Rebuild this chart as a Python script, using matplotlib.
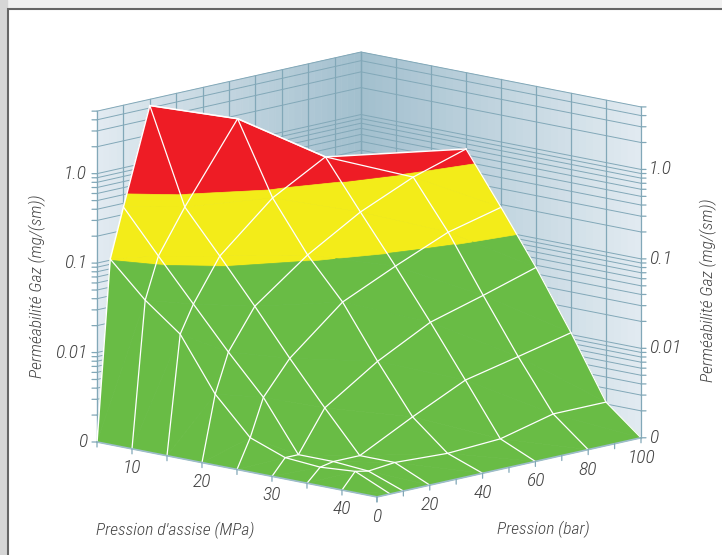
import numpy as np
import matplotlib
matplotlib.use("Agg")
import matplotlib.pyplot as plt
from matplotlib.patches import Rectangle
from matplotlib.colors import to_rgb
from matplotlib import font_manager
from mpl_toolkits.mplot3d import proj3d
from mpl_toolkits.mplot3d.art3d import Poly3DCollection

# data, permeability in mg/(sm), 0 sits at the axis floor
nan = float("nan")
seat_pressure = [5, 10, 15, 20, 25, 30, 35, 40, 45]
gas_pressure = [0, 5, 10, 20, 40, 60, 80, 100]
perm_05 = [0, 0.103, 0.365, 4.26, nan, nan, nan, nan]
perm_10 = [0, 0.0426, 0.123, 0.373, 2.67, nan, nan, nan]
perm_15 = [0, 0.0212, 0.0426, 0.126, 0.415, 0.88, nan, nan]
perm_20 = [0, 0.0054, 0.0148, 0.0413, 0.114, 0.254, 0.46, 0.70]
perm_25 = [0, 0.0021, 0.0055, 0.0129, 0.0405, 0.0752, 0.133, 0.186]
perm_30 = [0, 0.0015, 0.0015, 0.0043, 0.0105, 0.0212, 0.0312, 0.0472]
perm_35 = [0, 0.0014, 0.0015, 0.0015, 0.003, 0.0057, 0.0077, 0.0105]
perm_40 = [0, 0.0015, 0.0014, 0.0015, 0.0014, 0.0015, 0.0021, 0.0021]
perm_45 = [0, 0, 0, 0, 0, 0, 0, 0]

z_major = [0.01, 0.1, 1.0]
z_major_labels = ["0.01", "0.1", "1.0"]
z_top = 5
band_limits = [0.1, 0.5]
band_colors = ["#69BC45", "#F3EC19", "#EE1C25"]
seat_labels = [10, 20, 30, 40]
gas_labels = [0, 20, 40, 60, 80, 100]

GRID = "#82a8b8"
AXIS = "#9dbccb"
TEXT = "#444444"
W, H = 722, 555

# narrowest light face that is installed
installed = {f.name for f in font_manager.fontManager.ttflist}
FONT = [n for n in ["Liberation Sans Narrow", "Roboto Condensed", "Open Sans Condensed", "Roboto"] if n in installed]
FONT = FONT + ["DejaVu Sans"]


def log_z(v):
    v = np.asarray(v, dtype=float)
    return np.log10(np.where(v > 0, v, 0.001))


perm = np.array([perm_05, perm_10, perm_15, perm_20, perm_25,
                 perm_30, perm_35, perm_40, perm_45])
zz = log_z(perm)
zz[np.isnan(perm)] = nan
xs = np.array(seat_pressure, dtype=float)
ys = np.array(gas_pressure, dtype=float)

fig = plt.figure(figsize=(W / 100, H / 100), dpi=100, facecolor="#f1f1f1")
# left strip and white panel behind the chart
fig.add_artist(Rectangle((0, 0), 7 / W, 1, transform=fig.transFigure, color="#d6d6d6", zorder=-3))
fig.add_artist(Rectangle((8 / W, -0.1), 1, 1.1 - 9 / H, transform=fig.transFigure, facecolor="white",
                         edgecolor="#666666", lw=1.5, zorder=-2))

side = 1000
ax = fig.add_axes([(W - side) / 2 / W, (H - side) / 2 / H, side / W, side / H],
                  projection="3d", computed_zorder=False)
ax.set_axis_off()
ax.patch.set_visible(False)
ax.set_proj_type("ortho")
ax.view_init(elev=12.1, azim=-46.9)
aspect = (383, 386, 338)
ax.set_box_aspect(aspect, zoom=1)
zmin, zmax = -3, float(log_z(z_top))
ax.set_xlim(xs[0], xs[-1], view_margin=0)
ax.set_ylim(ys[0], ys[-1], view_margin=0)
ax.set_zlim(zmin, zmax, view_margin=0)


def to_2d(x, y, z):
    X, Y, _ = proj3d.proj_transform(x, y, z, ax.get_proj())
    return float(X), float(Y)


def to_px(x, y, z):
    ax.apply_aspect()
    return ax.transData.transform(to_2d(x, y, z))


# scale and move the box so the floor corners land where they are in the picture
left = to_px(xs[0], ys[0], zmin)
right = to_px(xs[-1], ys[-1], zmin)
ax.set_box_aspect(aspect, zoom=(641 - 97) / (right[0] - left[0]))
left = to_px(xs[0], ys[0], zmin)
pos = ax.get_position(original=True)
ax.set_position([pos.x0 + (97 - left[0]) / W, pos.y0 + (H - 442 - left[1]) / H, pos.width, pos.height])

# walls with their gradient towards the back corner
outer = np.array(to_rgb("#e2ebf1"))
inner = np.array(to_rgb("#a2bfce"))
steps = np.linspace(0, 1, 41)
for k in range(40):
    col = outer + (inner - outer) * (steps[k] + steps[k + 1]) / 2
    y0, y1 = ys[-1] * steps[k], ys[-1] * steps[k + 1]
    x1, x0 = xs[-1] - (xs[-1] - xs[0]) * steps[k], xs[-1] - (xs[-1] - xs[0]) * steps[k + 1]
    wall_l = [(xs[0], y0, zmin), (xs[0], y1, zmin), (xs[0], y1, zmax), (xs[0], y0, zmax)]
    wall_r = [(x0, ys[-1], zmin), (x1, ys[-1], zmin), (x1, ys[-1], zmax), (x0, ys[-1], zmax)]
    ax.add_collection3d(Poly3DCollection([wall_l, wall_r], facecolors=[col, col], edgecolors=[col, col],
                                         linewidths=0.4, zorder=1))

# grid on the walls
levels = [0.0]
for decade in [0.001, 0.01, 0.1]:
    levels += [decade * m for m in range(2, 10)] + [decade * 10]
levels += [m * 1.0 for m in range(2, z_top + 1)]
level_z = log_z(levels)
for z in level_z:
    ax.plot([xs[0], xs[0], xs[-1]], [ys[0], ys[-1], ys[-1]], [z, z, z], color=GRID, lw=0.7, zorder=2)
for p in np.arange(0, 101, 10):
    ax.plot([xs[0], xs[0]], [p, p], [zmin, zmax], color=GRID, lw=0.9, zorder=2)
for s in xs:
    ax.plot([s, s], [ys[-1], ys[-1]], [zmin, zmax], color=GRID, lw=0.9, zorder=2)


def clip_poly(poly, limit, keep_above):
    # cut a polygon at one height, Sutherland-Hodgman style
    out = []
    for a, b in zip(poly, poly[1:] + poly[:1]):
        a_in = (a[2] >= limit) == keep_above
        b_in = (b[2] >= limit) == keep_above
        if a_in:
            out.append(a)
        if a_in != b_in:
            t = (limit - a[2]) / (b[2] - a[2])
            out.append(tuple(a[n] + t * (b[n] - a[n]) for n in range(3)))
    return out


def node(i, j):
    return (xs[i], ys[j], zz[i, j])


# triangles of the surface, the high side is cut off on a diagonal
tris = []
for i in range(len(xs) - 1):
    for j in range(len(ys) - 1):
        corners = [(i, j), (i + 1, j), (i + 1, j + 1), (i, j + 1)]
        good = [node(*c) for c in corners if not np.isnan(zz[c])]
        if len(good) == 4:
            tris += [[good[0], good[1], good[2]], [good[0], good[2], good[3]]]
        elif len(good) == 3:
            tris.append(good)
tris.append([node(2, 5), node(3, 6), node(3, 7)])

limits_z = log_z(band_limits)
polys, cols = [], []
for tri in tris:
    for band, color in enumerate(band_colors):
        part = tri
        if band > 0:
            part = clip_poly(part, limits_z[band - 1], True) if part else part
        if band < 2 and part:
            part = clip_poly(part, limits_z[band], False)
        if len(part) >= 3:
            polys.append(part)
            cols.append(color)
ax.add_collection3d(Poly3DCollection(polys, facecolors=cols, edgecolors=cols, linewidths=0.5,
                                     zsort="average", zorder=3))

# white mesh
for i in range(1, len(xs) - 1):
    ok = ~np.isnan(zz[i])
    ax.plot(xs[i] * np.ones(ok.sum()), ys[ok], zz[i][ok], color="white", lw=0.9, zorder=4)
for j in range(1, len(ys)):
    ok = ~np.isnan(zz[:, j])
    ax.plot(xs[ok], ys[j] * np.ones(ok.sum()), zz[:, j][ok], color="white", lw=0.9, zorder=4)
outline = [(0, 0), (0, 1), (0, 2), (0, 3), (1, 4), (2, 5), (3, 7)]
ax.plot([xs[i] for i, j in outline], [ys[j] for i, j in outline], [zz[i, j] for i, j in outline],
        color="white", lw=1.1, zorder=4)
for a, b in [((0, 3), (1, 4)), ((1, 4), (2, 5)), ((2, 5), (3, 6))]:
    ax.plot([xs[a[0]], xs[b[0]]], [ys[a[1]], ys[b[1]]], [zz[a], zz[b]], color="white", lw=0.9, zorder=4)

# floor axis lines
ax.plot([xs[0], xs[-1], xs[-1]], [ys[0], ys[0], ys[-1]], [zmin, zmin, zmin], color=AXIS, lw=1.2, zorder=5)


def tick(x, y, z, dx, dy):
    ax.annotate("", xy=to_2d(x, y, z), xytext=(dx, dy), textcoords="offset pixels", annotation_clip=False,
                arrowprops=dict(arrowstyle="-", color=GRID, lw=0.9, shrinkA=0, shrinkB=0), zorder=5)


def label(text, x, y, z, dx, dy, ha="center"):
    ax.annotate(text, xy=to_2d(x, y, z), xytext=(dx, dy), textcoords="offset pixels", annotation_clip=False,
                ha=ha, va="center", family=FONT, style="italic", weight="light", fontsize=14, color=TEXT, zorder=6)


for z in level_z:
    tick(xs[0], ys[0], z, -5, 0)
    tick(xs[-1], ys[-1], z, 5, 0)
for s in xs:
    tick(s, ys[0], zmin, 0, -5)
for p in np.arange(0, 101, 10):
    tick(xs[-1], p, zmin, 0, -5)

for v, text in zip(z_major + [0.0], z_major_labels + ["0"]):
    z = float(log_z(v))
    label(text, xs[0], ys[0], z, -10, 0, ha="right")
    label(text, xs[-1], ys[-1], z, 8, 0, ha="left")
for s in seat_labels:
    label(str(s), s, ys[0], zmin, 0, -19)
for p in gas_labels:
    label(str(p), xs[-1], p, zmin, 0, -20)

txt = dict(family=FONT, style="italic", weight="light", fontsize=12.6, color=TEXT, ha="center", va="center")
fig.text(175 / W, 1 - 530 / H, "Pression d'assise (MPa)", **txt)
fig.text(543 / W, 1 - 529 / H, "Pression (bar)", **txt)
fig.text(37 / W, 1 - 286 / H, "Perméabilité Gaz (mg/(sm))", rotation=90, **txt)
fig.text(708 / W, 1 - 290 / H, "Perméabilité Gaz (mg/(sm))", rotation=90, **txt)

fig.savefig("out.png", dpi=100)
